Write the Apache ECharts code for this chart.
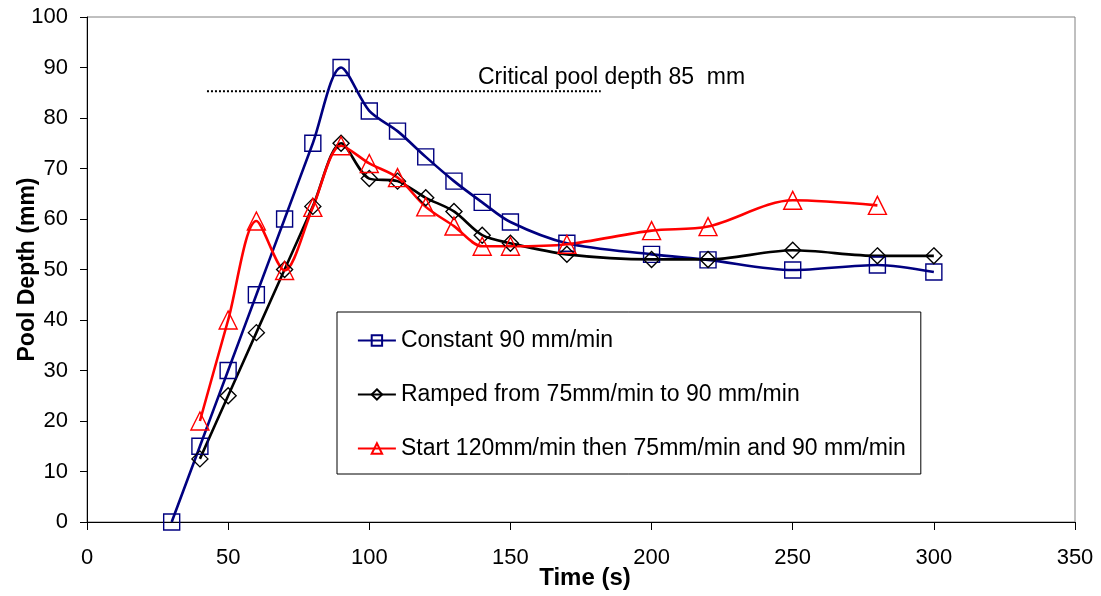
<!DOCTYPE html>
<html>
<head>
<meta charset="utf-8">
<script src="https://cdn.jsdelivr.net/npm/echarts@6/dist/echarts.min.js"></script>
<style>html,body{margin:0;padding:0;background:#fff}#c{width:1101px;height:596px}</style>
</head>
<body>
<div id="c"></div>
<script>
var constantX = [30, 40, 50, 60, 70, 80, 90, 100, 110, 120, 130, 140, 150, 170, 200, 220, 250, 280, 300];
var constantY = [0, 15, 30, 45, 60, 75, 90, 81.4, 77.4, 72.3, 67.5, 63.3, 59.4, 55.2, 53.0, 51.9, 49.9, 50.9, 49.5];
var rampedX = [40, 50, 60, 70, 80, 90, 100, 110, 120, 130, 140, 150, 170, 200, 220, 250, 280, 300];
var rampedY = [12.5, 25, 37.5, 50, 62.5, 75, 68, 67.5, 64.2, 61.5, 56.8, 55.2, 53, 52, 52, 53.8, 52.7, 52.7];
var startX = [40, 50, 60, 70, 80, 90, 100, 110, 120, 130, 140, 150, 170, 200, 220, 250, 280];
var startY = [20, 40, 59.6, 49.8, 62.3, 74.5, 71, 68.2, 62.4, 58.6, 54.6, 54.6, 55, 57.7, 58.5, 63.7, 62.7];
var criticalX = [42.5, 182];
var criticalDepth = 85.3;
var seriesNames = ['Constant 90 mm/min', 'Ramped from 75mm/min to 90 mm/min', 'Start 120mm/min then 75mm/min and 90 mm/min'];
var annotation = 'Critical pool depth 85  mm';

function zip(xs, ys) { return xs.map(function (x, i) { return [x, ys[i]]; }); }

var FONT = '"Liberation Sans", Arial, sans-serif';
var chart = echarts.init(document.getElementById('c'), null, { renderer: 'canvas' });

function mk(name, xs, ys, color, symbol, size) {
  return {
    name: name, type: 'line', data: zip(xs, ys), smooth: 0.3,
    symbol: symbol, symbolSize: size,
    lineStyle: { color: color, width: 2.6 },
    itemStyle: { color: 'rgba(255,255,255,0)', borderColor: color, borderWidth: 1.4 },
    emphasis: { disabled: true }, z: 3
  };
}

chart.setOption({
  animation: false,
  backgroundColor: '#fff',
  grid: { left: 87, right: 26, top: 17, bottom: 74, containLabel: false, outerBoundsMode: 'none', show: true, borderColor: '#808080', borderWidth: 1, backgroundColor: 'transparent' },
  xAxis: {
    type: 'value', min: 0, max: 350, interval: 50,
    name: 'Time (s)', nameLocation: 'middle', nameGap: 44, nameMoveOverlap: false,
    nameTextStyle: { fontFamily: FONT, fontSize: 24, fontWeight: 'bold', color: '#000', padding: [0, 0, 0, 8] },
    axisLine: { show: true, lineStyle: { color: '#000', width: 1 } },
    axisTick: { show: true, length: 8, lineStyle: { color: '#000' } },
    axisLabel: { fontFamily: FONT, fontSize: 22, color: '#000', margin: 25 },
    splitLine: { show: false }
  },
  yAxis: {
    type: 'value', min: 0, max: 100, interval: 10,
    name: 'Pool Depth (mm)', nameLocation: 'middle', nameGap: 48, nameMoveOverlap: false,
    nameTextStyle: { fontFamily: FONT, fontSize: 23, fontWeight: 'bold', color: '#000' },
    axisLine: { show: true, lineStyle: { color: '#000', width: 1 } },
    axisTick: { show: true, length: 7, lineStyle: { color: '#000' } },
    axisLabel: { fontFamily: FONT, fontSize: 22, color: '#000', margin: 19 },
    splitLine: { show: false }
  },
  legend: {
    data: seriesNames,
    orient: 'vertical', left: 337, top: 312,
    padding: [17, 15, 14, 20],
    itemWidth: 38, itemHeight: 13, itemGap: 31,
    backgroundColor: '#fff', borderColor: '#000', borderWidth: 1,
    textStyle: { fontFamily: FONT, fontSize: 23, color: '#000' },
    lineStyle: { width: 1.8 },
    selectedMode: false
  },
  graphic: [{
    type: 'text', left: 478, top: 66,
    style: { text: annotation, fontFamily: FONT, fontSize: 23, fill: '#000' }
  }],
  series: [
    mk(seriesNames[0], constantX, constantY, '#000080', 'rect', 16),
    mk(seriesNames[1], rampedX, rampedY, '#000000', 'diamond', 16),
    mk(seriesNames[2], startX, startY, '#ff0000', 'triangle', 18),
    {
      name: 'critical', type: 'line', data: zip(criticalX, [criticalDepth, criticalDepth]),
      symbol: 'none', lineStyle: { color: '#000', width: 2, type: [2, 2] }, z: 2, silent: true
    }
  ]
});
</script>
</body>
</html>
